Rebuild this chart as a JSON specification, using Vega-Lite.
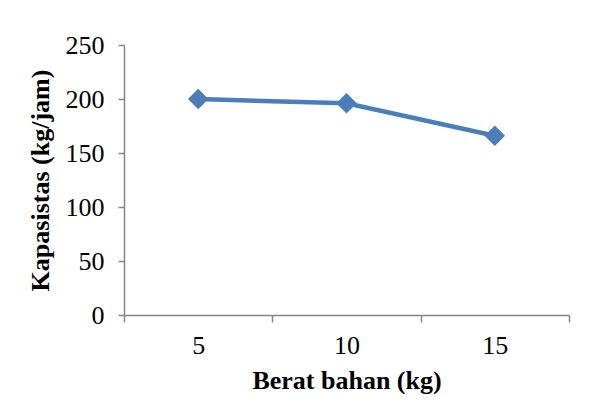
{
  "$schema": "https://vega.github.io/schema/vega-lite/v6.json",
  "autosize": "none",
  "width": 445,
  "height": 270,
  "padding": {"left": 124, "top": 45, "right": 22, "bottom": 88},
  "background": "white",
  "data": {"values": [
    {"berat": "5", "kapasitas": 200},
    {"berat": "10", "kapasitas": 196},
    {"berat": "15", "kapasitas": 166}
  ]},
  "mark": {"type": "line", "color": "#4a7ebb", "strokeWidth": 4.5, "point": {"shape": "diamond", "size": 420, "filled": true, "color": "#4a7ebb", "opacity": 1}},
  "encoding": {
    "x": {
      "field": "berat", "type": "ordinal", "sort": null, "bandPosition": 0.5,
      "scale": {"type": "band", "paddingInner": 0, "paddingOuter": 0},
      "axis": {"title": "Berat bahan (kg)", "labelAngle": 0, "tickBand": "extent", "tickSize": 7, "labelPadding": 10, "titlePadding": 9}
    },
    "y": {
      "field": "kapasitas", "type": "quantitative",
      "scale": {"domain": [0, 250], "nice": false},
      "axis": {"title": "Kapasistas (kg/jam)", "values": [0, 50, 100, 150, 200, 250], "grid": false, "tickSize": 6, "labelPadding": 14, "titlePadding": 12}
    }
  },
  "config": {
    "view": {"stroke": null},
    "axis": {
      "domainColor": "#868686", "tickColor": "#868686", "domainWidth": 1.5, "tickWidth": 1.5,
      "labelFont": "Liberation Serif", "labelFontSize": 26, "labelColor": "#000000",
      "titleFont": "Liberation Serif", "titleFontSize": 26, "titleFontWeight": "bold", "titleColor": "#000000"
    }
  }
}
